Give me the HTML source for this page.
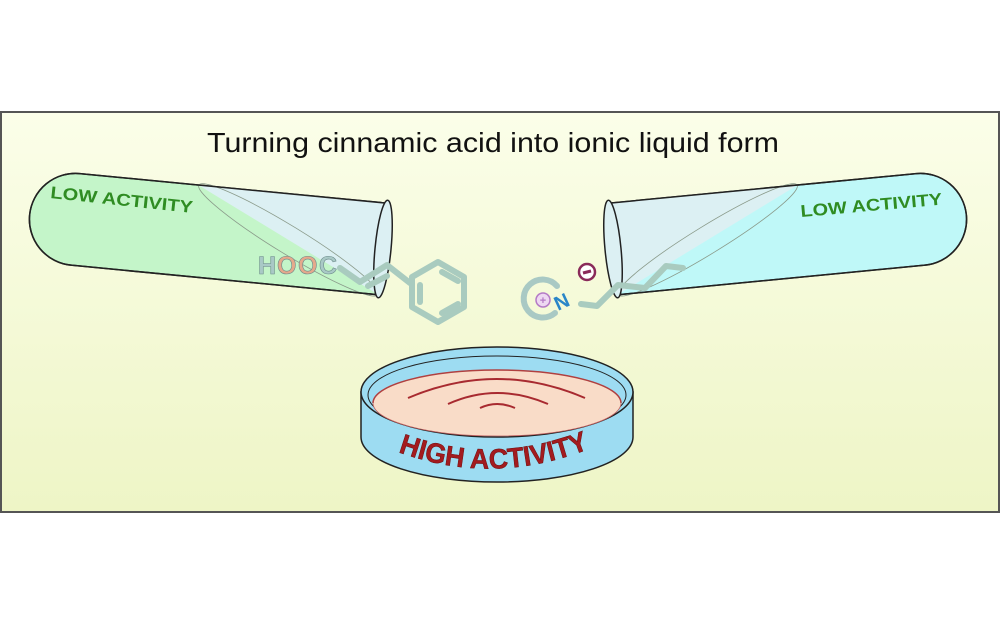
<!DOCTYPE html>
<html><head><meta charset="utf-8"><style>
html,body{margin:0;padding:0;background:#fff;width:1000px;height:625px;overflow:hidden}
svg{display:block}
text{font-family:"Liberation Sans",sans-serif}
</style></head><body>
<svg width="1000" height="625" viewBox="0 0 1000 625" xmlns="http://www.w3.org/2000/svg">
<defs>
<linearGradient id="bg" x1="0" y1="0" x2="0" y2="1">
<stop offset="0" stop-color="#fbfee9"/><stop offset="1" stop-color="#eef5c6"/>
</linearGradient>
<path id="arcT" d="M 398 452 Q 497 488 596 446"/>
</defs>
<rect x="1" y="112" width="998" height="400" fill="url(#bg)" stroke="#555" stroke-width="2"/>
<text x="207" y="152" font-size="28" fill="#111" textLength="572" lengthAdjust="spacingAndGlyphs">Turning cinnamic acid into ionic liquid form</text>

<!-- left tube -->
<g transform="translate(383,249) rotate(5.5)">
<path d="M0,-46 L-309,-46 A46,46 0 0 0 -309,46 L0,46 Z" fill="#c4f5c9" stroke="#222" stroke-width="1.5"/>
<path d="M-190,-46 L0,-46 L0,46 Z" fill="#dcf0f3"/>
<ellipse cx="-95" cy="0" rx="105" ry="14" transform="rotate(26 -95 0)" fill="none" stroke="#8a9a8a" stroke-width="0.8"/>
<path d="M0,-46 L-309,-46 A46,46 0 0 0 -309,46 L0,46" fill="none" stroke="#222" stroke-width="1.5"/>
<ellipse cx="0" cy="0" rx="8" ry="49" fill="#dcf0f3" stroke="#222" stroke-width="1.5"/>
</g>
<text transform="translate(50,198) rotate(6)" font-size="17" font-weight="bold" fill="#2f8c22" textLength="143" lengthAdjust="spacingAndGlyphs">LOW ACTIVITY</text>

<!-- right tube -->
<g transform="translate(613,249) rotate(-5.5)">
<path d="M0,-46 L309,-46 A46,46 0 0 1 309,46 L0,46 Z" fill="#bff8f8" stroke="#222" stroke-width="1.5"/>
<path d="M190,-46 L0,-46 L0,46 Z" fill="#dcf0f3"/>
<ellipse cx="95" cy="0" rx="105" ry="14" transform="rotate(-26 95 0)" fill="none" stroke="#8a9a8a" stroke-width="0.8"/>
<path d="M0,-46 L309,-46 A46,46 0 0 1 309,46 L0,46" fill="none" stroke="#222" stroke-width="1.5"/>
<ellipse cx="0" cy="0" rx="8" ry="49" fill="#dcf0f3" stroke="#222" stroke-width="1.5"/>
</g>
<text transform="translate(801,217) rotate(-5)" font-size="17" font-weight="bold" fill="#2f8c22" textLength="142" lengthAdjust="spacingAndGlyphs">LOW ACTIVITY</text>

<!-- HOOC cinnamic -->
<g font-size="25" font-weight="bold" stroke="#6d8c8c" stroke-width="0.6">
<text x="258" y="274" fill="#a9c9c6">H</text>
<text x="277" y="274" fill="#e5a98c">O</text>
<text x="298" y="274" fill="#e5a98c">O</text>
<text x="319" y="274" fill="#a9c9c6">C</text>
</g>
<g stroke="#a9cbbf" stroke-width="6" stroke-linecap="round" stroke-linejoin="round" fill="none">
<polyline points="340,268 360,282 387,265 410,283"/>
<line x1="368" y1="286" x2="387" y2="276"/>
<polygon points="438,262 464,277 464,307 438,322 412,307 412,277"/>
<line x1="420" y1="285" x2="420" y2="302"/>
<line x1="442" y1="272" x2="458" y2="281"/>
<line x1="442" y1="313" x2="458" y2="304"/>
</g>

<!-- ionic liquid -->
<path d="M 557 286 A 19 19 0 1 0 555 313" fill="none" stroke="#a9c9c4" stroke-width="6" stroke-linecap="round"/>
<circle cx="543" cy="300" r="7" fill="#eed8f2" stroke="#b47ac6" stroke-width="1.5"/>
<text x="543" y="304" font-size="11" font-weight="bold" fill="#b47ac6" text-anchor="middle">+</text>
<text transform="translate(558,311) rotate(-25)" font-size="20" font-weight="bold" fill="#2a86c8">N</text>
<circle cx="587" cy="272" r="8" fill="#fff" stroke="#8a2a5a" stroke-width="2.5"/>
<line x1="583" y1="273" x2="591" y2="271" stroke="#8a2a5a" stroke-width="3"/>
<polyline points="581,304 597,306 618,285 645,288 666,266 683,268" fill="none" stroke="#a9cbbf" stroke-width="6" stroke-linecap="round" stroke-linejoin="round"/>

<!-- dish -->
<path d="M361,392 L361,437 A136,45 0 0 0 633,437 L633,392 Z" fill="#9ddcf2" stroke="#222" stroke-width="1.5"/>
<ellipse cx="497" cy="392" rx="136" ry="45" fill="#9ddcf2" stroke="#222" stroke-width="1.5"/>
<ellipse cx="497" cy="395" rx="129" ry="39" fill="none" stroke="#222" stroke-width="1"/>
<path d="M373,403 A124,33 0 0 1 621,403 A124,33 0 0 1 373,403 Z" fill="#f9dcc8" stroke="#c06060" stroke-width="0.8"/>
<path d="M373,403 A124,33 0 0 1 621,403" fill="none" stroke="#b04040" stroke-width="1.5"/>
<g fill="none" stroke="#a82a30" stroke-width="2">
<path d="M408,398 Q497,360 585,398"/>
<path d="M448,404 Q497,382 548,404"/>
<path d="M480,408 Q497,400 515,408"/>
</g>
<text font-size="28" font-weight="bold" fill="#a31b1f" stroke="#6a0a0a" stroke-width="0.5"><textPath href="#arcT" textLength="196" lengthAdjust="spacingAndGlyphs">HIGH ACTIVITY</textPath></text>
</svg>
</body></html>
